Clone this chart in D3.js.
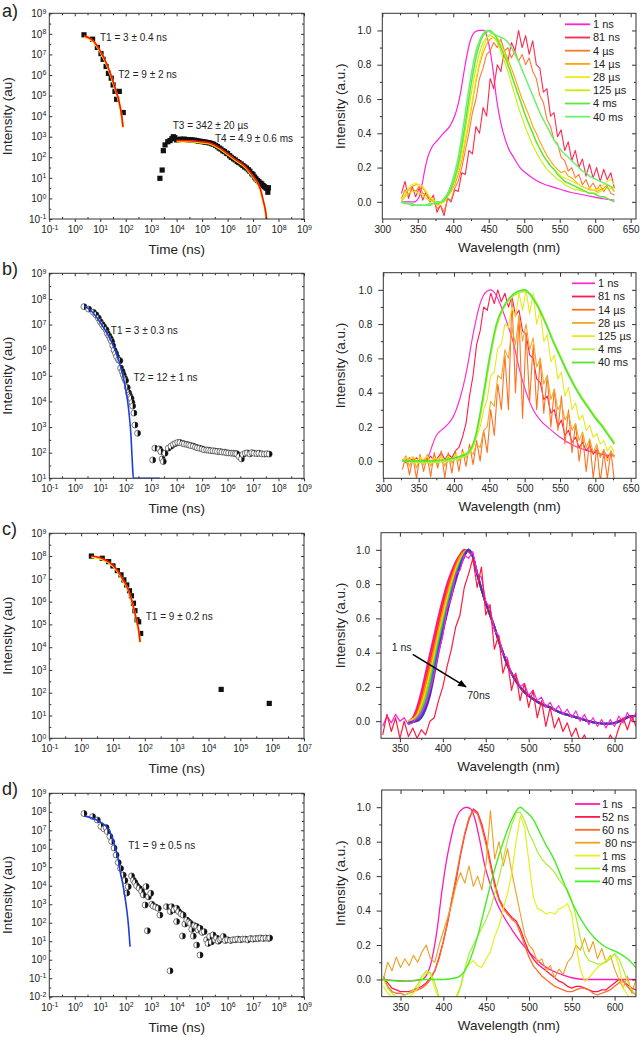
<!DOCTYPE html>
<html>
<head>
<meta charset="utf-8">
<script src="https://d3js.org/d3.v7.min.js"></script>
<style>
body{margin:0;background:#fff;}
svg text{font-family:"Liberation Sans",Arial,Helvetica,sans-serif;fill:#222;}
</style>
</head>
<body>
<script>
// ---------- decay traces: [time (ns), intensity (au)] ----------
var aDecayPts = [[2.3,9e7],[5,5.5e7],[7.7,2.2e7],[10.7,1.1e7],[13,5.8e6],[17,2.6e6],[21,1.2e6],[27,7e5],[32,3.3e5],[38,1.6e5],[44,6.6e4],[56,1.6e5],[80,1.5e4],
 [2.2e3,9.5],[2.7e3,24],[3e3,210],[3.5e3,400],[4.5e3,570],[5.5e3,650],[6.5e3,800],[7.4e3,1000],[8.5e3,900],[1e4,700],[1.2e4,720],[1.4e4,760],[1.7e4,740],[2e4,760],[2.4e4,730],[2.8e4,720],[3.4e4,700],[4e4,700],[5e4,680],[6e4,650],[7e4,620],[8.5e4,600],[1e5,580],[1.2e5,560],[1.4e5,540],[1.7e5,520],[2e5,500],[2.4e5,460],[2.8e5,430],[3.4e5,380],[4e5,330],[4.7e5,280],[5.5e5,250],[6.5e5,210],[7.5e5,190],[9e5,160],[1e6,150],[1.2e6,120],[1.4e6,100],[1.7e6,85],[2e6,75],[2.4e6,62],[2.8e6,55],[3.4e6,47],[4e6,40],[4.7e6,34],[5.5e6,30],[6.5e6,25],[7.5e6,21],[9e6,16],[1e7,14],[1.15e7,11],[1.3e7,9],[1.5e7,7.5],[1.7e7,6.5],[2e7,5.5],[2.2e7,5],[2.5e7,4.2],[2.8e7,3.7],[3.2e7,3.3],[3.5e7,3.1],[4e7,3.3],[3.8e7,2]];
var aFit1 = [[2.3,8e7],[5,5e7],[10,1.5e7],[20,2.5e6],[30,6e5],[40,2e5],[50,8e4],[60,3e4],[70,1e4],[78,3e3]];
var aFit2 = [[1e4,650],[3e4,640],[1e5,560],[2e5,500],[5e5,280],[1e6,150],[2e6,80],[5e6,35],[1e7,12],[1.5e7,6],[2e7,2.5],[2.5e7,0.8],[3e7,0.3],[3.4e7,0.08]];

var bDecayPts = [[2.3,5e7],[3.5,4e7],[5.4,3e7],[6.8,2.4e7],[8.4,1.8e7],[10,1.3e7],[12,1e7],[14,8e6],[17,6.2e6],[19,4.5e6],[22,3.6e6],[25,2.8e6],[28,2.2e6],[31,1.5e6],[35,1e6],[40,7.5e5],[44,5.6e5],[52,4.2e5],[59,3.9e5],[63,2e5],[72,1.5e5],[80,1.1e5],[90,8e4],[99,6.5e4],[115,3.5e4],[130,2.2e4],[138,1.8e4],[150,1.5e4],[162,1.3e4],[175,9e3],[188,6.6e3],[210,3.5e3],[230,1.2e3],[293,570],
 [1.15e3,52],[1.4e3,150],[2.1e3,140],[2.4e3,110],[2.7e3,57],[3e3,45],[3.5e3,95],[4.7e3,150],[6e3,180],[7.4e3,210],[9e3,230],[1.1e4,250],[1.35e4,250],[1.7e4,230],[2e4,220],[2.5e4,210],[3e4,200],[3.6e4,190],[4.5e4,180],[5.5e4,165],[6.5e4,155],[8e4,150],[1e5,140],[1.2e5,130],[1.5e5,128],[1.8e5,125],[2.2e5,120],[2.7e5,118],[3.3e5,115],[4e5,112],[5e5,110],[6e5,106],[7.5e5,104],[9e5,100],[1.1e6,98],[1.4e6,96],[1.7e6,95],[2e6,92],[2.3e6,90],[2.8e6,70],[3.5e6,57],[4e6,85],[5e6,95],[6e6,98],[7.5e6,90],[9e6,100],[1.1e7,95],[1.4e7,92],[1.7e7,95],[2.2e7,90],[2.8e7,88],[3.5e7,90],[4.3e7,88]];
var bFit = [[2.3,5.5e7],[5,3e7],[10,1.2e7],[20,4e6],[30,1.8e6],[50,5e5],[70,1.5e5],[100,3e4],[130,5e3],[160,500],[185,30],[200,10],[300,1e-2],[2200,1e-6]];

var cDecayPts = [[2.1,1e8],[4.6,8e7],[7.3,5.7e7],[10,3.7e7],[13.7,2.3e7],[17.9,1.5e7],[22,9e6],[27,5.4e6],[33,3e6],[38,1.8e6],[44,8.5e5],[49,4e5],[57,1.6e5],[64,1.3e5],[74,4e4],[2.5e4,140],[8.1e5,34]];
var cFit = [[2.1,1e8],[5,7.5e7],[10,4e7],[15,2e7],[20,1e7],[30,3.5e6],[44,6e5],[55,1.5e5],[65,5e4],[71,1.7e4]];

var dDecayPts = [[2.3,8e7],[5,5.5e7],[7.7,3.6e7],[10.7,1.6e7],[14,1.2e7],[17,1.4e7],[19,8.5e6],[24,4.6e6],[28,2.5e6],[35,1.1e6],[42,4.6e5],[51,1.8e5],[63,8.7e4],[80,3.8e4],[93,1.9e4],[110,4e3],[126,8.9e3],
 [170,3.4e4],[200,2e4],[230,1.5e4],[270,1e4],[340,7.3e3],[420,5e3],[490,3.2e3],[580,910],[630,9e3],[710,37],[780,2.5e3],[960,3.9e3],[1050,1e3],[1200,800],[1500,700],[1900,600],[2200,260],
 [4000,740],[5500,0.25],[5700,400],[6300,740],[8000,500],[1e4,600],[1e4,115],[1.2e4,400],[1.5e4,300],[1.7e4,19],[1.8e4,260],[2.1e4,85],[2.5e4,140],[3e4,110],[3.5e4,92],[3.9e4,44],[4.5e4,19],[5e4,70],[6.1e4,62],[6.1e4,6.2],[7e4,40],[8.3e4,50],[8.3e4,1.8],[1e5,30],[1.2e5,33],[1.5e5,12],[1.7e5,7.6],[2e5,18],[2.3e5,9],[2.7e5,22],[3.2e5,12],[3.7e5,15],[4.3e5,10],[5e5,12],[5.8e5,14],[6.8e5,18],
 [8e5,11],[1e6,12],[1.3e6,11],[1.6e6,12],[2e6,12],[2.5e6,13],[3.2e6,12],[4e6,13],[5e6,13],[6.3e6,12],[8e6,14],[1e7,13],[1.25e7,14],[1.6e7,14],[2e7,15],[2.5e7,14],[3.2e7,15],[4e7,14],[4.5e7,15]];
var dFit = [[2.3,6e7],[5,4.5e7],[10,2.8e7],[18,1.5e7],[28,5e6],[38,1.3e6],[50,3e5],[59,7e4],[75,1.5e4],[93,2.6e3],[110,500],[126,93],[140,15],[148,5]];

// ---------- spectra: wavelength grids (nm) ----------
var gridAB = [327,332,337,342,347,352,357,362,367,372, 377,382,387,392,397,402,407,412,417,422,
 427,432,437,442,447,452,457,462,467,472, 477,482,487,492,497,502,507,512,517,522,
 527,532,537,542,547,552,557,562,567,572, 577,582,587,592,597,602,607,612,617,622, 627];
var gridCD = [330,335,340,345,350,355,360,365,370,375, 380,385,390,395,400,405,410,415,420,425,
 430,435,440,445,450,455,460,465,470,475, 480,485,490,495,500,505,510,515,520,525,
 530,535,540,545,550,555,560,565,570,575, 580,585,590,595,600,605,610,615,620,625];
var abWaveTicks = [300,350,400,450,500,550,600,650];
var abWaveMinor = [325,375,425,475,525,575,625];
var cdWaveTicks = [350,400,450,500,550,600];
var cdWaveMinor = [375,425,475,525,575];
var normTicks = [0,0.2,0.4,0.6,0.8,1.0];
var normMinor = [0.1,0.3,0.5,0.7,0.9];

// panel a spectra
var aLabels = ['1 ns','81 ns','4 µs','14 µs','28 µs','125 µs','4 ms','40 ms'];
var a1ns = [[327,0],[345,0],[352,0.03],[356,0.1],[360,0.19],[364,0.26],[370,0.32],[378,0.36],[386,0.4],[395,0.44],[400,0.48],[405,0.54],[410,0.63],[414,0.73],[419,0.85],[424,0.94],[430,0.99],[437,1.0],[443,1.0],[447,0.97],[452,0.88],[456,0.77],[461,0.6],[466,0.48],[470,0.41],[478,0.31],[485,0.26],[494,0.2],[505,0.16],[517,0.125],[530,0.1],[541,0.086],[565,0.056],[588,0.037],[611,0.018],[627,0.01]];
var a81ns = [0.05,0.12,0.02,0.09,0.03,0.08,0.01,0.06,0.0,0.04, -0.06,-0.02,-0.08,0.02,0.0,0.07,0.06,0.17,0.16,0.3,
 0.28,0.44,0.4,0.55,0.5,0.72,0.66,0.8,0.76,0.88, 0.82,0.93,0.88,1.0,0.9,0.97,0.86,0.94,0.8,0.78,
 0.64,0.66,0.5,0.52,0.38,0.42,0.3,0.35,0.24,0.3, 0.2,0.25,0.15,0.22,0.14,0.2,0.12,0.19,0.13,0.17, 0.08];
var a4us = [0.02,0.07,0.04,0.08,0.06,0.09,0.05,0.04,0.0,0.01, -0.04,-0.02,-0.06,0.02,0.01,0.08,0.12,0.2,0.3,0.4,
 0.52,0.6,0.72,0.78,0.86,0.88,0.93,0.9,0.95,0.88, 0.9,0.84,0.88,0.82,0.86,0.8,0.84,0.76,0.72,0.62,
 0.58,0.48,0.44,0.36,0.34,0.26,0.24,0.18,0.2,0.14, 0.16,0.1,0.13,0.08,0.11,0.07,0.1,0.06,0.09,0.05, 0.04];
var a14us = [0.0,0.04,0.07,0.09,0.1,0.1,0.08,0.05,0.02,0.0, -0.02,-0.01,0.0,0.03,0.06,0.1,0.16,0.24,0.35,0.46,
 0.58,0.7,0.8,0.87,0.92,0.95,0.96,0.94,0.92,0.88, 0.83,0.78,0.72,0.66,0.6,0.55,0.5,0.44,0.4,0.35,
 0.31,0.27,0.24,0.21,0.19,0.17,0.18,0.15,0.14,0.12, 0.1,0.09,0.08,0.07,0.07,0.06,0.07,0.08,0.1,0.09, 0.06];
var a28us = [0.01,0.05,0.08,0.1,0.11,0.1,0.09,0.06,0.03,0.01, 0.0,-0.01,0.01,0.04,0.08,0.13,0.19,0.27,0.37,0.48,
 0.6,0.72,0.82,0.9,0.95,0.98,0.98,0.96,0.92,0.87, 0.81,0.75,0.68,0.62,0.56,0.5,0.45,0.4,0.35,0.31,
 0.27,0.24,0.21,0.19,0.17,0.15,0.14,0.13,0.12,0.11, 0.1,0.09,0.08,0.08,0.07,0.07,0.08,0.1,0.12,0.13, 0.1];
var a125us = [0.0,0.03,0.05,0.06,0.06,0.05,0.04,0.02,0.01,0.0, -0.01,-0.01,0.0,0.03,0.07,0.12,0.2,0.3,0.42,0.55,
 0.67,0.78,0.87,0.93,0.96,0.97,0.96,0.93,0.88,0.82, 0.76,0.69,0.62,0.55,0.49,0.43,0.38,0.33,0.29,0.25,
 0.22,0.19,0.17,0.15,0.13,0.12,0.1,0.09,0.08,0.07, 0.07,0.06,0.06,0.05,0.05,0.05,0.06,0.07,0.08,0.08, 0.06];
var a4ms = [0.0,-0.01,-0.01,-0.02,-0.02,-0.02,-0.02,-0.02,-0.02,-0.01, -0.01,0.0,0.01,0.04,0.08,0.14,0.22,0.33,0.46,0.6,
 0.73,0.84,0.92,0.97,0.99,1.0,0.98,0.95,0.9,0.85, 0.8,0.74,0.68,0.62,0.56,0.5,0.45,0.4,0.35,0.31,
 0.27,0.24,0.21,0.19,0.16,0.14,0.12,0.11,0.1,0.09, 0.08,0.07,0.06,0.05,0.05,0.04,0.03,0.03,0.02,0.01, 0.0];
var a40ms = [0.0,-0.01,-0.01,-0.01,-0.02,-0.02,-0.02,-0.02,-0.01,-0.01, 0.0,0.0,0.02,0.05,0.1,0.17,0.26,0.38,0.52,0.66,
 0.78,0.88,0.94,0.98,1.0,0.99,0.98,0.97,0.96,0.95, 0.93,0.9,0.86,0.82,0.77,0.72,0.67,0.62,0.57,0.52,
 0.48,0.44,0.4,0.36,0.33,0.3,0.28,0.26,0.24,0.22, 0.2,0.18,0.17,0.15,0.14,0.13,0.12,0.11,0.1,0.09, 0.08];

// panel b spectra
var bLabels = ['1 ns','81 ns','14 µs','28 µs','125 µs','4 ms','40 ms'];
var b1ns = [[327,0],[360,0],[365,0.04],[370,0.1],[375,0.15],[382,0.18],[390,0.21],[399,0.26],[408,0.36],[418,0.53],[427,0.74],[437,0.92],[446,0.99],[452,1.0],[458,0.98],[465,0.92],[474,0.82],[484,0.69],[493,0.53],[503,0.39],[512,0.3],[522,0.24],[535,0.19],[550,0.14],[570,0.09],[590,0.06],[610,0.04],[627,0.03]];
var b81ns = [0.01,-0.01,0.02,0.0,0.02,-0.01,0.01,0.0,0.03,0.0, 0.02,0.05,0.01,0.04,0.02,0.06,0.08,0.14,0.22,0.38,
 0.5,0.68,0.76,0.9,0.88,0.98,0.92,1.0,0.93,0.98, 0.9,0.96,0.85,0.88,0.76,0.74,0.62,0.6,0.48,0.46,
 0.36,0.38,0.28,0.3,0.2,0.24,0.15,0.18,0.11,0.14, 0.08,0.11,0.06,0.09,0.04,0.07,0.03,0.06,0.02,0.05, 0.03];
var b14us = [-0.05,0.03,-0.08,0.02,-0.1,0.04,-0.06,0.03,-0.09,0.05, -0.04,0.06,-0.1,0.05,-0.07,0.06,-0.06,0.07,-0.03,0.1,
 -0.02,0.12,0.0,0.18,0.05,0.3,0.15,0.45,0.3,0.62, 0.3,0.95,0.4,0.85,0.25,0.75,0.35,0.68,0.3,0.6,
 0.28,0.5,0.2,0.42,0.18,0.38,0.1,0.3,0.05,0.22, 0.0,0.15,-0.06,0.12,-0.1,0.08,-0.12,0.05,-0.1,0.06, -0.12];
var b28us = [0.0,0.03,-0.03,0.02,-0.04,0.03,-0.02,0.04,-0.03,0.02, -0.02,0.04,-0.03,0.03,-0.01,0.04,0.0,0.05,0.02,0.06,
 0.04,0.1,0.08,0.18,0.2,0.35,0.32,0.5,0.48,0.65, 0.6,0.78,0.68,0.85,0.7,0.8,0.65,0.72,0.55,0.6,
 0.45,0.5,0.36,0.42,0.3,0.34,0.24,0.28,0.18,0.22, 0.12,0.17,0.08,0.13,0.05,0.1,0.02,0.07,0.0,0.06, 0.02];
var b125us = [0.0,0.02,0.01,0.03,0.0,0.02,0.01,0.03,0.0,0.02, 0.01,0.03,0.0,0.03,0.01,0.04,0.02,0.05,0.04,0.07,
 0.08,0.14,0.2,0.3,0.36,0.5,0.52,0.66,0.68,0.8, 0.78,0.9,0.84,0.98,0.88,1.0,0.86,0.98,0.8,0.88,
 0.7,0.74,0.58,0.62,0.48,0.52,0.38,0.43,0.3,0.34, 0.24,0.27,0.18,0.21,0.14,0.16,0.1,0.12,0.06,0.09, 0.05];
var b4ms = [[327,0],[360,-0.01],[390,0.0],[410,0.02],[420,0.04],[430,0.12],[440,0.32],[450,0.57],[460,0.78],[470,0.89],[480,0.95],[490,0.98],[500,0.99],[510,0.97],[520,0.9],[530,0.81],[540,0.71],[550,0.62],[560,0.53],[570,0.45],[580,0.38],[590,0.32],[600,0.26],[610,0.21],[620,0.15],[627,0.11]];
var b40ms = [[327,0],[360,0],[390,0.01],[410,0.03],[420,0.05],[430,0.14],[440,0.35],[450,0.6],[460,0.8],[470,0.9],[480,0.96],[490,0.99],[500,1.0],[510,0.96],[520,0.89],[530,0.8],[540,0.7],[550,0.61],[560,0.52],[570,0.44],[580,0.37],[590,0.31],[600,0.25],[610,0.2],[620,0.14],[627,0.1]];

// panel c spectra (1 ns -> 70 ns), rising edges then shared tail
var cRainbowEdges = [
 [[360,0.0],[365,0.02],[370,0.08],[375,0.17],[380,0.28],[385,0.39],[390,0.5],[395,0.61],[400,0.71],[405,0.8],[410,0.87],[415,0.93],[420,0.97],[425,1.0],[430,0.99]],
 [[360,0.0],[365,0.01],[370,0.06],[375,0.14],[380,0.24],[385,0.35],[390,0.46],[395,0.57],[400,0.68],[405,0.77],[410,0.85],[415,0.92],[420,0.97],[425,0.995],[430,0.99]],
 [[360,0.0],[365,0.01],[370,0.04],[375,0.11],[380,0.21],[385,0.31],[390,0.42],[395,0.53],[400,0.64],[405,0.74],[410,0.83],[415,0.9],[420,0.96],[425,0.99],[430,1.0]],
 [[360,0.0],[370,0.03],[375,0.09],[380,0.17],[385,0.27],[390,0.38],[395,0.5],[400,0.61],[405,0.71],[410,0.8],[415,0.88],[420,0.94],[425,0.98],[430,1.0]],
 [[360,-0.01],[370,0.02],[375,0.07],[380,0.14],[385,0.24],[390,0.35],[395,0.47],[400,0.58],[405,0.68],[410,0.78],[415,0.86],[420,0.93],[425,0.98],[430,1.0]],
 [[360,-0.01],[370,0.01],[375,0.05],[380,0.11],[385,0.2],[390,0.32],[395,0.44],[400,0.55],[405,0.66],[410,0.76],[415,0.85],[420,0.92],[425,0.97],[430,1.0]],
 [[360,-0.01],[370,0.01],[375,0.03],[380,0.09],[385,0.17],[390,0.29],[395,0.42],[400,0.53],[405,0.64],[410,0.74],[415,0.83],[420,0.91],[425,0.97],[430,1.0]],
 [[360,-0.01],[370,0.0],[375,0.02],[380,0.07],[385,0.15],[390,0.27],[395,0.4],[400,0.52],[405,0.63],[410,0.73],[415,0.82],[420,0.9],[425,0.96],[430,1.0]]];
var cTail = [[435,0.96],[440,0.86],[445,0.77],[450,0.69],[455,0.62],[460,0.55],[465,0.47],[470,0.4],[475,0.33],[480,0.28],[487,0.22],[495,0.17],[505,0.13],[515,0.1],[525,0.08],[537,0.05],[550,0.03],[560,0.015],[570,0.0],[580,-0.01],[590,-0.015],[600,-0.01],[610,0.01],[620,0.03],[625,0.03]];
var cNoisyMagenta = [-0.03,0.03,-0.01,0.04,0.0,0.02,-0.02,-0.01,0.02,0.05, 0.1,0.18,0.28,0.4,0.5,0.66,0.72,0.86,0.88,0.97,
 0.95,0.99,0.86,0.84,0.7,0.66,0.53,0.5,0.39,0.37, 0.27,0.27,0.2,0.22,0.15,0.18,0.12,0.14,0.08,0.11,
 0.06,0.09,0.04,0.07,0.02,0.06,0.0,0.04,-0.02,0.02, -0.03,0.01,-0.04,0.01,-0.03,0.03,-0.01,0.05,0.0,0.05];
var cNoisyRed = [-0.08,0.04,-0.06,0.02,-0.1,0.0,-0.09,-0.04,-0.1,-0.05, -0.08,0.0,0.02,0.12,0.2,0.32,0.42,0.55,0.62,0.78,
 0.86,0.95,0.78,0.9,0.62,0.68,0.42,0.5,0.28,0.36, 0.18,0.28,0.12,0.22,0.08,0.18,0.02,0.12,-0.03,0.08,
 -0.04,0.02,-0.06,-0.01,-0.09,-0.04,-0.12,-0.08,-0.15,-0.1, -0.15,-0.12,-0.15,-0.08,-0.12,-0.04,0.02,-0.05,0.03,-0.03];

// panel d spectra
var dLabels = ['1 ns','52 ns','60 ns','\u00a080 ns','1 ms','4 ms','40 ms'];
var d1ns = [[328,0.0],[340,-0.005],[360,-0.01],[375,0.0],[382,0.04],[388,0.15],[393,0.3],[398,0.5],[403,0.67],[408,0.8],[414,0.92],[420,0.98],[427,1.0],[432,0.99],[437,0.93],[442,0.82],[448,0.67],[455,0.55],[462,0.45],[470,0.37],[480,0.29],[490,0.22],[500,0.16],[510,0.11],[520,0.07],[530,0.045],[540,0.025],[550,0.01],[565,0.0],[625,0.0]];
var d52ns = [0.01,-0.02,-0.05,-0.06,-0.07,-0.07,-0.07,-0.06,-0.05,-0.04, -0.02,0.01,0.05,0.13,0.22,0.33,0.46,0.58,0.72,0.84,
 0.93,0.99,0.97,0.9,0.8,0.68,0.56,0.47,0.42,0.39, 0.36,0.34,0.29,0.22,0.16,0.12,0.09,0.07,0.05,0.03,
 0.01,-0.01,-0.02,-0.04,-0.05,-0.04,-0.04,-0.05,-0.06,-0.07, -0.07,-0.06,-0.06,-0.04,-0.02,0.0,-0.01,-0.03,-0.05,-0.06];
var d60ns = [0.02,-0.04,-0.07,-0.08,-0.08,-0.09,-0.08,-0.07,-0.06,-0.05, -0.03,0.0,0.05,0.12,0.22,0.34,0.47,0.6,0.73,0.85,
 0.94,0.98,0.96,0.88,0.78,0.66,0.54,0.46,0.41,0.38, 0.35,0.33,0.27,0.2,0.13,0.08,0.05,0.02,0.0,-0.02,
 -0.04,-0.05,-0.06,-0.07,-0.07,-0.06,-0.05,-0.05,-0.06,-0.08, -0.09,-0.08,-0.07,-0.06,-0.04,-0.02,-0.01,-0.04,-0.07,-0.09];
var d80ns = [0.0,0.1,0.05,0.13,0.07,0.12,0.08,0.14,0.1,0.16, 0.2,0.12,0.1,0.2,0.28,0.36,0.44,0.55,0.62,0.56,
 0.66,0.54,0.6,0.52,0.68,0.98,0.7,0.8,0.66,0.76, 0.62,0.5,0.38,0.26,0.2,0.17,0.1,0.12,0.05,0.08,
 0.01,0.06,0.03,0.1,0.13,0.2,0.17,0.24,0.16,0.22, 0.12,0.18,0.1,0.14,0.06,0.0,-0.05,0.02,-0.08,0.0];
var d1ms = [-0.04,-0.08,-0.1,-0.12,-0.12,-0.11,-0.1,-0.08,-0.05,0.0, 0.04,0.03,-0.05,-0.12,-0.15,-0.15,-0.15,-0.12,-0.05,0.05,
 0.09,0.11,0.08,0.07,0.12,0.16,0.25,0.31,0.41,0.5, 0.62,0.8,0.95,0.88,0.68,0.48,0.41,0.4,0.38,0.39,
 0.38,0.41,0.42,0.44,0.38,0.2,0.06,-0.01,0.01,0.04, 0.07,0.09,0.11,0.13,0.15,0.08,-0.05,-0.09,-0.12,-0.1];
var d4ms = [0.0,-0.05,-0.08,-0.1,-0.1,-0.09,-0.08,-0.06,-0.03,0.02, 0.05,0.04,-0.02,-0.1,-0.14,-0.15,-0.14,-0.1,-0.04,0.06,
 0.15,0.2,0.25,0.3,0.35,0.41,0.5,0.59,0.7,0.81, 0.9,0.97,0.97,0.92,0.85,0.8,0.74,0.7,0.67,0.65,
 0.62,0.58,0.55,0.52,0.46,0.36,0.24,0.15,0.11,0.1, 0.09,0.09,0.1,0.12,0.15,0.12,0.06,-0.01,-0.06,-0.09];
var d40ms = [[328,0.0],[350,-0.01],[380,0.0],[400,0.0],[415,0.01],[425,0.05],[430,0.1],[440,0.25],[450,0.45],[460,0.64],[470,0.8],[480,0.93],[487,0.99],[490,1.0],[495,0.98],[505,0.93],[512,0.86],[520,0.78],[528,0.71],[540,0.57],[551,0.44],[567,0.3],[586,0.2],[606,0.15],[615,0.12],[625,0.07]];

// ---------- drawing ----------
var svg = d3.select('body').append('svg').attr('width', 640).attr('height', 1037);
var defs = svg.append('defs');
defs.append('marker').attr('id', 'arrow').attr('viewBox', '0 0 10 8').attr('refX', 9).attr('refY', 4)
	.attr('markerWidth', 9).attr('markerHeight', 7).attr('markerUnits', 'userSpaceOnUse').attr('orient', 'auto')
	.append('path').attr('d', 'M0,0 L10,4 L0,8 Z').attr('fill', '#000');

var clipCount = 0;
function makeClip(b){
	var id = 'clip' + (clipCount++);
	defs.append('clipPath').attr('id', id).append('rect')
		.attr('x', b[0]).attr('y', b[1]).attr('width', b[2] - b[0]).attr('height', b[3] - b[1]);
	return 'url(#' + id + ')';
}
function onGrid(grid, vals){
	return vals.map(function(v, i){ return [grid[i], v]; });
}
//10 with exponent
function supLabels(sel){
	sel.selectAll('.tick text').each(function(d){
		var e = Math.round(Math.log10(d));
		var t = d3.select(this).text(null);
		t.append('tspan').text('10');
		t.append('tspan').attr('dy', '-0.5em').attr('font-size', '7px').text(e);
	});
}
function addAxis(g, gen, tr, fs){
	return g.append('g').attr('transform', tr).attr('font-size', fs || 10).attr('color', '#333').call(gen);
}

//log-log decay panel
function logPanel(p){
	var b = p.box;
	var x = d3.scaleLog().domain([+('1e' + p.xExp[0]), +('1e' + p.xExp[1])]).range([b[0], b[2]]);
	var y = d3.scaleLog().domain([+('1e' + p.yExp[0]), +('1e' + p.yExp[1])]).range([b[3], b[1]]).clamp(true);
	var xMaj = d3.range(p.xExp[0], p.xExp[1] + 1).map(function(e){ return +('1e' + e); });
	var xMin = d3.range(p.xExp[0], p.xExp[1]).map(function(e){ return Math.pow(10, e + 0.5); });
	var yMaj = d3.range(p.yExp[0], p.yExp[1] + 1).map(function(e){ return +('1e' + e); });
	var yMin = d3.range(p.yExp[0], p.yExp[1]).map(function(e){ return Math.pow(10, e + 0.5); });
	var g = svg.append('g');
	var plot = g.append('g').attr('clip-path', makeClip(b));

	if(p.marker == 'square'){
		plot.selectAll('rect').data(p.points).join('rect')
			.attr('x', function(d){ return x(d[0]) - 2.6; }).attr('y', function(d){ return y(d[1]) - 2.6; })
			.attr('width', 5.2).attr('height', 5.2).attr('fill', '#111');
	}else{
		var pts = plot.selectAll('g.pt').data(p.points).join('g').attr('class', 'pt')
			.attr('transform', function(d){ return 'translate(' + x(d[0]) + ',' + y(d[1]) + ')'; });
		pts.append('circle').attr('r', 3).attr('fill', '#fff').attr('stroke', '#444').attr('stroke-width', 0.7);
		pts.append('path').attr('d', 'M0,-3A3,3 0 0,1 0,3Z').attr('fill', '#111');
	}
	var line = d3.line().x(function(d){ return x(d[0]); }).y(function(d){ return y(d[1]); }).curve(d3.curveMonotoneX);
	p.fits.forEach(function(f){
		if(f.under){
			plot.append('path').datum(f.data).attr('d', line).attr('fill', 'none').attr('stroke', f.under)
				.attr('stroke-width', 2.2).attr('transform', 'translate(0,0.8)');
		}
		plot.append('path').datum(f.data).attr('d', line).attr('fill', 'none').attr('stroke', f.color).attr('stroke-width', 1.6);
	});

	addAxis(g, d3.axisBottom(x).tickValues(xMaj).tickSize(3).tickPadding(4), 'translate(0,' + b[3] + ')').call(supLabels);
	addAxis(g, d3.axisBottom(x).tickValues(xMin).tickSize(-2).tickFormat(''), 'translate(0,' + b[3] + ')');
	addAxis(g, d3.axisTop(x).tickValues(xMaj).tickSize(-3).tickFormat(''), 'translate(0,' + b[1] + ')');
	addAxis(g, d3.axisTop(x).tickValues(xMin).tickSize(-2).tickFormat(''), 'translate(0,' + b[1] + ')');
	addAxis(g, d3.axisLeft(y).tickValues(yMaj).tickSize(-3).tickPadding(3), 'translate(' + b[0] + ',0)').call(supLabels);
	addAxis(g, d3.axisLeft(y).tickValues(yMin).tickSize(-2).tickFormat(''), 'translate(' + b[0] + ',0)');
	addAxis(g, d3.axisRight(y).tickValues(yMaj).tickSize(-3).tickFormat(''), 'translate(' + b[2] + ',0)');
	addAxis(g, d3.axisRight(y).tickValues(yMin).tickSize(-2).tickFormat(''), 'translate(' + b[2] + ',0)');
	g.selectAll('.domain').remove();
	g.append('rect').attr('x', b[0]).attr('y', b[1]).attr('width', b[2] - b[0]).attr('height', b[3] - b[1])
		.attr('fill', 'none').attr('stroke', '#333').attr('stroke-width', 1);

	p.notes.forEach(function(n){
		g.append('text').attr('x', x(n.at[0])).attr('y', y(n.at[1])).attr('font-size', 10).text(n.text);
	});
	g.append('text').attr('x', (b[0] + b[2]) / 2).attr('y', b[3] + 35).attr('text-anchor', 'middle')
		.attr('font-size', 13.5).text('Time (ns)');
	g.append('text').attr('transform', 'translate(12,' + ((b[1] + b[3]) / 2) + ') rotate(-90)')
		.attr('text-anchor', 'middle').attr('font-size', 13.5).text('Intensity (au)');
	g.append('text').attr('x', 2).attr('y', p.labelY).attr('font-size', 18).text(p.label);
}

//normalised spectra panel
function specPanel(p){
	var b = p.box;
	var x = d3.scaleLinear().domain(p.xDom).range([b[0], b[2]]);
	var y = d3.scaleLinear().domain([-0.1, 1.1]).range([b[3], b[1]]);
	var g = svg.append('g');
	var plot = g.append('g').attr('clip-path', makeClip(b));
	p.series.forEach(function(s){
		var line = d3.line().x(function(d){ return x(d[0]); }).y(function(d){ return y(d[1]); })
			.curve(s.smooth ? d3.curveMonotoneX : d3.curveLinear);
		plot.append('path').datum(s.data).attr('d', line).attr('fill', 'none')
			.attr('stroke', s.color).attr('stroke-width', s.w || 1).attr('stroke-linejoin', 'round');
	});

	addAxis(g, d3.axisBottom(x).tickValues(p.xTicks).tickSize(4).tickPadding(3).tickFormat(d3.format('d')), 'translate(0,' + b[3] + ')', 11);
	addAxis(g, d3.axisBottom(x).tickValues(p.xMinor).tickSize(2).tickFormat(''), 'translate(0,' + b[3] + ')');
	addAxis(g, d3.axisTop(x).tickValues(p.xTicks).tickSize(-4).tickFormat(''), 'translate(0,' + b[1] + ')');
	addAxis(g, d3.axisTop(x).tickValues(p.xMinor).tickSize(-2).tickFormat(''), 'translate(0,' + b[1] + ')');
	addAxis(g, d3.axisLeft(y).tickValues(normTicks).tickSize(5).tickPadding(6).tickFormat(d3.format('.1f')), 'translate(' + b[0] + ',0)', 11);
	addAxis(g, d3.axisLeft(y).tickValues(normMinor).tickSize(2.5).tickFormat(''), 'translate(' + b[0] + ',0)');
	addAxis(g, d3.axisRight(y).tickValues(normTicks).tickSize(-4).tickFormat(''), 'translate(' + b[2] + ',0)');
	addAxis(g, d3.axisRight(y).tickValues(normMinor).tickSize(-2).tickFormat(''), 'translate(' + b[2] + ',0)');
	g.selectAll('.domain').remove();
	g.append('rect').attr('x', b[0]).attr('y', b[1]).attr('width', b[2] - b[0]).attr('height', b[3] - b[1])
		.attr('fill', 'none').attr('stroke', '#333').attr('stroke-width', 1);

	if(p.legend){
		var L = p.legend;
		p.series.filter(function(s){ return s.name; }).forEach(function(s, i){
			var ly = b[1] + L.top + i * L.step;
			g.append('line').attr('x1', b[2] - L.l0).attr('x2', b[2] - L.l1).attr('y1', ly).attr('y2', ly)
				.attr('stroke', s.color).attr('stroke-width', 1.8);
			g.append('text').attr('x', b[2] - L.tx).attr('y', ly).attr('dy', '0.36em').attr('font-size', 11).text(s.name);
		});
	}
	if(p.arrow){
		g.append('line').attr('x1', x(p.arrow.from[0])).attr('y1', y(p.arrow.from[1]))
			.attr('x2', x(p.arrow.to[0])).attr('y2', y(p.arrow.to[1]))
			.attr('stroke', '#000').attr('stroke-width', 1.6).attr('marker-end', 'url(#arrow)');
		p.arrow.notes.forEach(function(n){
			g.append('text').attr('x', x(n.at[0])).attr('y', y(n.at[1])).attr('font-size', 10.5).text(n.text);
		});
	}
	g.append('text').attr('x', (b[0] + b[2]) / 2).attr('y', b[3] + 33).attr('text-anchor', 'middle')
		.attr('font-size', 13.5).text('Wavelength (nm)');
	g.append('text').attr('transform', 'translate(345,' + ((b[1] + b[3]) / 2 - 10) + ') rotate(-90)')
		.attr('text-anchor', 'middle').attr('font-size', 13.5).text('Intensity (a.u.)');
}

// ---------- panels ----------
logPanel({box: [49.3, 13.3, 304, 219], xExp: [-1, 9], yExp: [-1, 9], marker: 'square', points: aDecayPts,
	fits: [{data: aFit1, color: '#ff1010', under: '#f2e600'}, {data: aFit2, color: '#ff1010', under: '#f2e600'}],
	notes: [{text: 'T1 = 3 ± 0.4 ns', at: [9.8, 4.5e7]}, {text: 'T2 = 9 ± 2 ns', at: [51, 7e5]},
		{text: 'T3 = 342 ± 20 µs', at: [7e3, 2.4e3]}, {text: 'T4 = 4.9 ± 0.6 ms', at: [3.2e5, 560]}],
	label: 'a)', labelY: 17});
logPanel({box: [49.3, 273.3, 304, 478.3], xExp: [-1, 9], yExp: [1, 9], marker: 'half', points: bDecayPts,
	fits: [{data: bFit, color: '#1d3fd8'}],
	notes: [{text: 'T1 = 3 ± 0.3 ns', at: [26, 4.2e6]}, {text: 'T2 = 12 ± 1 ns', at: [200, 6.2e4]}],
	label: 'b)', labelY: 275});
logPanel({box: [49.3, 533.3, 304, 738.3], xExp: [-1, 7], yExp: [0, 9], marker: 'square', points: cDecayPts,
	fits: [{data: cFit, color: '#ff1010', under: '#f2e600'}],
	notes: [{text: 'T1 = 9 ± 0.2 ns', at: [107, 1.5e5]}],
	label: 'c)', labelY: 535});
logPanel({box: [49.3, 793.3, 304, 996.7], xExp: [-1, 9], yExp: [-2, 9], marker: 'half', points: dDecayPts,
	fits: [{data: dFit, color: '#1d3fd8'}],
	notes: [{text: 'T1 = 9 ± 0.5 ns', at: [126, 9.8e5]}],
	label: 'd)', labelY: 795});

var aColors = ['#ff22d8', '#ff2a50', '#ff7a30', '#ffa500', '#ecec1a', '#c4f000', '#5ee640', '#6cf070'];
specPanel({box: [382.3, 13.3, 636, 219], xDom: [300, 657.5], xTicks: abWaveTicks, xMinor: abWaveMinor,
	series: [
		{name: aLabels[0], data: a1ns, color: aColors[0], smooth: true, w: 1.2},
		{name: aLabels[1], data: onGrid(gridAB, a81ns), color: aColors[1], w: 1.1},
		{name: aLabels[2], data: onGrid(gridAB, a4us), color: aColors[2], w: 1.1},
		{name: aLabels[3], data: onGrid(gridAB, a14us), color: aColors[3], w: 1.1},
		{name: aLabels[4], data: onGrid(gridAB, a28us), color: aColors[4], w: 1.1},
		{name: aLabels[5], data: onGrid(gridAB, a125us), color: aColors[5], w: 1.1},
		{name: aLabels[6], data: onGrid(gridAB, a4ms), color: aColors[6], smooth: true, w: 1.5},
		{name: aLabels[7], data: onGrid(gridAB, a40ms), color: aColors[7], smooth: true, w: 1.5}],
	legend: {top: 11, step: 13.2, l0: 71, l1: 46, tx: 43}});

var bColors = ['#ff33cc', '#ff1a55', '#ff7020', '#f0a828', '#e8e820', '#b4f040', '#55e630'];
specPanel({box: [383.3, 272.7, 636, 478.3], xDom: [300, 657.5], xTicks: abWaveTicks, xMinor: abWaveMinor,
	series: [
		{name: bLabels[0], data: b1ns, color: bColors[0], smooth: true, w: 1.2},
		{name: bLabels[1], data: onGrid(gridAB, b81ns), color: bColors[1], w: 1.1},
		{name: bLabels[2], data: onGrid(gridAB, b14us), color: bColors[2], w: 1.1},
		{name: bLabels[3], data: onGrid(gridAB, b28us), color: bColors[3], w: 1.1},
		{name: bLabels[4], data: onGrid(gridAB, b125us), color: bColors[4], w: 1.1},
		{name: bLabels[5], data: b4ms, color: bColors[5], smooth: true, w: 1.5},
		{name: bLabels[6], data: b40ms, color: bColors[6], smooth: true, w: 1.6}],
	legend: {top: 10.6, step: 13.2, l0: 64, l1: 41, tx: 38}});

var rainbowColors = ['#ff1493', '#ff2a2a', '#ff8c00', '#ffd400', '#7ed321', '#00b894', '#1e64ff', '#5b2bb5'];
var cSeries = cRainbowEdges.map(function(edge, k){
	return {data: edge.concat(cTail), color: rainbowColors[k], smooth: true, w: 2};
});
cSeries.push({data: onGrid(gridCD, cNoisyMagenta), color: '#ff22dd', w: 1.2});
cSeries.push({data: onGrid(gridCD, cNoisyRed), color: '#ff1a40', w: 1.2});
specPanel({box: [381, 532.7, 636, 738.3], xDom: [328, 625], xTicks: cdWaveTicks, xMinor: cdWaveMinor,
	series: cSeries,
	arrow: {from: [365, 0.39], to: [427, 0.2], notes: [{text: '1 ns', at: [340.5, 0.41]}, {text: '70ns', at: [428.5, 0.13]}]}});

var dColors = ['#ff1ab0', '#ff1a4d', '#ff6a2a', '#f0a020', '#e6f020', '#aaee33', '#44ee22'];
specPanel({box: [381.7, 790, 636, 996.7], xDom: [328, 625], xTicks: cdWaveTicks, xMinor: cdWaveMinor,
	series: [
		{name: dLabels[0], data: d1ns, color: dColors[0], smooth: true, w: 1.3},
		{name: dLabels[1], data: onGrid(gridCD, d52ns), color: dColors[1], w: 1.3},
		{name: dLabels[2], data: onGrid(gridCD, d60ns), color: dColors[2], w: 1.3},
		{name: dLabels[3], data: onGrid(gridCD, d80ns), color: dColors[3], w: 1.1},
		{name: dLabels[4], data: onGrid(gridCD, d1ms), color: dColors[4], w: 1.2},
		{name: dLabels[5], data: onGrid(gridCD, d4ms), color: dColors[5], w: 1.2},
		{name: dLabels[6], data: d40ms, color: dColors[6], smooth: true, w: 1.4}],
	legend: {top: 14, step: 12.9, l0: 61, l1: 36, tx: 34}});
</script>
</body>
</html>
